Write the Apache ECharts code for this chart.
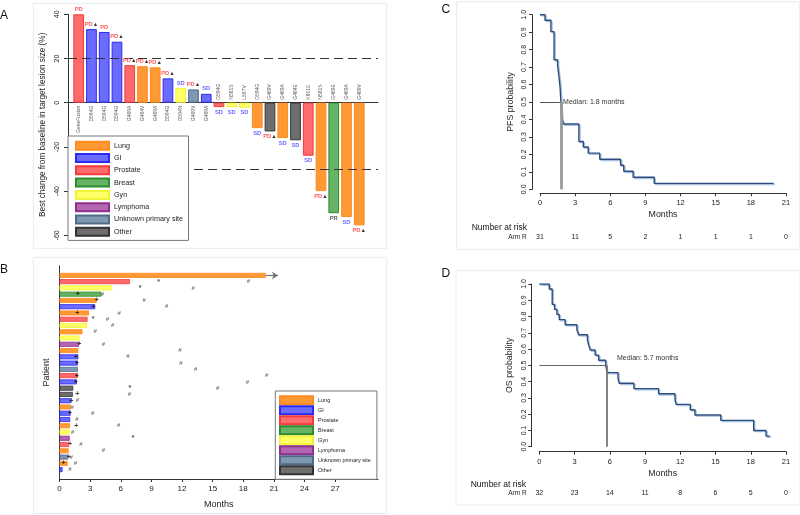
<!DOCTYPE html>
<html><head><meta charset="utf-8">
<script src="https://cdn.jsdelivr.net/npm/echarts@6/dist/echarts.min.js"></script>
<style>html,body{margin:0;padding:0;background:#fff}#c{width:800px;height:515px}</style>
</head><body><div id="c"></div>
<script>
// ---------- Panel A : waterfall ----------
const mutations = ['GeneFusion','D594G','D594G','D594G','G469A','G464V','G469A','D594G','D594N','G469V','G469A','D594G','N581S','L597V','D594G','G469V','G469A','G464E','K601E','N581S','G469E','G469A','G469V'];
const bestChange = [40, 33.3, 32, 27.6, 17, 16.5, 16, 11, 6.6, 6, 4, -2, -2, -2.3, -11.5, -13, -16, -17, -24, -40, -50, -51.7, -55.5];
const tumorType = ['Prostate','GI','GI','GI','Prostate','Lung','Lung','GI','Gyn','Unknown primary site','GI','Prostate','Gyn','Gyn','Lung','Other','Lung','Other','Prostate','Lung','Breast','Lung','Lung'];
const response = ['PD','PD','PD','PD','PD','PD','PD','PD','SD','PD','SD','SD','SD','SD','SD','PD','SD','SD','SD','PD','PR','SD','PD'];
const newLesion = [0,1,0,1,1,1,1,1,0,1,0,0,0,0,0,1,0,0,0,1,0,0,1];
const refLines = [20, -30];

// ---------- Panel B : swimmer ----------
const swimType = ['Lung','Prostate','Gyn','Breast','Lung','GI','Lung','Prostate','Gyn','Lung','Gyn','Lymphoma','Lung','GI','GI','Unknown primary site','Prostate','GI','Other','Other','GI','Lung','GI','GI','Lung','Gyn','Lymphoma','Prostate','Lung','Unknown primary site','Lung','GI'];
const swimEnd = [20.2, 6.9, 5.15, 4.1, 3.65, 3.5, 2.9, 2.75, 2.7, 2.25, 1.95, 1.9, 1.85, 1.85, 1.8, 1.8, 1.8, 1.7, 1.35, 1.3, 1.15, 1.1, 1.1, 1.05, 1.03, 1.0, 1.0, 0.93, 0.9, 0.85, 0.8, 0.3];
const respPlus = [null,null,null,1.8,3.65,3.3,1.75,null,null,null,null,1.95,null,1.6,1.7,null,1.7,1.6,null,1.75,1.15,null,1.0,null,1.65,null,null,1.03,null,0.9,0.4,null];
const respStar = [null,9.7,7.9,null,null,null,null,3.3,null,null,null,null,null,null,null,null,null,null,6.9,null,null,null,null,null,null,null,7.2,null,null,null,null,null];
const progHash = [null,18.5,13.1,4.2,8.3,10.5,5.85,4.7,5.2,3.5,null,4.3,11.8,6.7,11.9,13.35,20.3,18.4,15.5,6.85,1.75,1.25,3.25,1.7,5.8,1.3,null,2.1,4.3,1.15,1.55,1.03];
const ongoingArrowEnd = 21.4;
const swimTicks = [0,3,6,9,12,15,18,21,24,27];

// ---------- Panels C / D : Kaplan-Meier ----------
const pfsTime = [0, 0.43, 0.93, 1.2, 1.5, 1.62, 1.72, 1.85, 1.99, 3.32, 3.7, 4.12, 5.1, 6.88, 7.15, 7.95, 9.75, 19.95];
const pfsSurv = [1, 0.968, 0.903, 0.742, 0.71, 0.645, 0.58, 0.416, 0.374, 0.274, 0.242, 0.207, 0.172, 0.138, 0.103, 0.069, 0.034, 0.034];
const pfsMedian = 1.8;
const pfsRisk = [31, 11, 5, 2, 1, 1, 1, 0];
const osTime = [0, 0.85, 1.1, 1.3, 1.5, 1.7, 2.2, 3.2, 3.35, 4.1, 4.2, 4.35, 4.75, 5.05, 5.65, 5.78, 6.7, 6.8, 8.05, 10.15, 11.55, 11.65, 12.85, 13.25, 15.45, 18.25, 19.3, 19.65];
const osSurv = [1, 0.969, 0.875, 0.844, 0.813, 0.781, 0.75, 0.719, 0.688, 0.656, 0.625, 0.594, 0.563, 0.531, 0.5, 0.455, 0.42, 0.39, 0.357, 0.325, 0.29, 0.26, 0.227, 0.195, 0.162, 0.1, 0.065, 0.065];
const osMedian = 5.7;
const osRisk = [32, 23, 14, 11, 8, 6, 5, 0];

const typeNames = ['Lung','GI','Prostate','Breast','Gyn','Lymphoma','Unknown primary site','Other'];
const typeFill = ['#FF9933','#6B6BFF','#FF6B6B','#66B366','#FFFF66','#B366B3','#7F99B3','#6E6E6E'];
const typeBorder = ['#FF8A1F','#2B2BF0','#F03C3C','#2E8B2E','#F2F23A','#8E2F8E','#4E6B88','#333333'];

const FONT = 'Liberation Sans, Arial, sans-serif';
const chart = echarts.init(document.getElementById('c'), null, {renderer:'canvas'});

const rowCats = ['top'].concat(swimType.map((_, i) => 'r' + (i + 1))).concat(['bottom']);
const series = [];

// A bars
typeNames.forEach((t, k) => {
  const s = {
    type: 'bar', name: t, xAxisIndex: 0, yAxisIndex: 0, barWidth: 10.7, barGap: '-100%',
    itemStyle: {color: typeFill[k], borderColor: typeBorder[k], borderWidth: 1},
    data: bestChange.map((v, i) => tumorType[i] === t ? [i + 1, v] : null).filter(d => d)
  };
  if (k === 0) {
    s.markLine = {silent: true, symbol: ['none','none'], label: {show: false},
      lineStyle: {color: '#333', width: 1.1, type: [9, 5]},
      data: refLines.map(v => ({yAxis: v}))};
  }
  series.push(s);
});
// A response labels
const rich = {
  PD: {color: '#FF3333', fontSize: 5.8, fontWeight: 'bold'},
  SD: {color: '#4444FF', fontSize: 5.8, fontWeight: 'bold'},
  PR: {color: '#333333', fontSize: 5.8, fontWeight: 'bold'},
  tri: {color: '#000', fontSize: 5.5}
};
series.push({
  type: 'scatter', xAxisIndex: 0, yAxisIndex: 0, symbolSize: 0, silent: true, z: 5,
  data: bestChange.map((v, i) => ({value: [i + 1, v], label: {position: v >= 0 ? 'top' : 'bottom'}})),
  label: {show: true, distance: 2, rich: rich,
    formatter: p => '{' + response[p.dataIndex] + '|' + response[p.dataIndex] + '}' + (newLesion[p.dataIndex] ? '{tri|▲}' : '')}
});
// A mutation labels
series.push({
  type: 'scatter', xAxisIndex: 0, yAxisIndex: 0, symbolSize: 0, silent: true, z: 5,
  data: bestChange.map((v, i) => ({value: [i + 1, 0],
    label: v >= 0 ? {position: 'bottom', align: 'right'} : {position: 'top', align: 'left'}})),
  label: {show: true, distance: 3, rotate: 90, verticalAlign: 'middle', fontSize: 5, color: '#333',
    formatter: p => mutations[p.dataIndex]}
});

// B bars
typeNames.forEach((t, k) => {
  const s = {
    type: 'bar', name: t, xAxisIndex: 1, yAxisIndex: 1, barWidth: 5, barGap: '-100%',
    itemStyle: {color: typeFill[k], borderColor: typeBorder[k], borderWidth: 0.8},
    data: rowCats.map((c, j) => (j >= 1 && j <= swimType.length && swimType[j - 1] === t) ? swimEnd[j - 1] : '-')
  };
  if (t === swimType[0]) {
    s.markLine = {silent: true, symbol: ['none', 'arrow'], symbolSize: 6, label: {show: false},
      lineStyle: {color: '#777', width: 1.2, type: 'solid'},
      data: [[{coord: [swimEnd[0], rowCats[1]]}, {coord: [ongoingArrowEnd, rowCats[1]]}]]};
  }
  series.push(s);
});
function markerSeries(arr, glyph, size, color) {
  const data = [];
  arr.forEach((v, i) => { if (v !== null) data.push([v, i + 1]); });
  return {type: 'scatter', xAxisIndex: 1, yAxisIndex: 1, symbolSize: 0, silent: true, z: 6, data: data,
    label: {show: true, position: 'inside', formatter: glyph, fontSize: size, color: color, fontWeight: 'bold'}};
}
series.push(markerSeries(respPlus, '+', 7, '#111'));
series.push(markerSeries(respStar, '*', 7, '#222'));
series.push(markerSeries(progHash, '#', 6, '#555'));

// C, D KM curves
function kmSeries(xi, yi, times, surv, median, hColor, vColor, vWidth, showLabel) {
  return {
    type: 'line', xAxisIndex: xi, yAxisIndex: yi, step: 'end', symbol: 'none', showSymbol: false, silent: true,
    data: times.map((t, i) => [t, surv[i]]),
    lineStyle: {color: '#2E4D7F', width: 1.4, shadowColor: '#A8C3E0', shadowOffsetX: 1.2, shadowOffsetY: 1.2, shadowBlur: 0},
    markLine: {silent: true, symbol: ['none','none'], animation: false, label: {show: false},
      data: [
        [{coord: [0, 0.5], lineStyle: {color: hColor, width: 1, type: 'solid'},
          label: {show: showLabel, position: 'end', distance: 2, fontSize: 7, color: '#333',
            formatter: 'Median: ' + median + ' months'}},
         {coord: [median, 0.5]}],
        [{coord: [median, 0.5], lineStyle: {color: vColor, width: vWidth, type: 'solid'}}, {coord: [median, 0]}]
      ]}
  };
}
series.push(kmSeries(2, 2, pfsTime, pfsSurv, pfsMedian, '#555', '#999', 2.8, true));
series.push(kmSeries(4, 3, osTime, osSurv, osMedian, '#666', '#777', 1.8, false));

const axisColor = '#333';
const kmX = (grid, offset) => ({
  gridIndex: grid, type: 'value', min: 0, max: 21, interval: 3, position: 'bottom', offset: offset,
  axisLine: {show: true, onZero: false, lineStyle: {color: axisColor}},
  axisTick: {show: true, length: 3, lineStyle: {color: axisColor}},
  axisLabel: {fontSize: 7.5, color: '#222', margin: 6, showMinLabel: true, showMaxLabel: true},
  splitLine: {show: false},
  name: 'Months', nameLocation: 'middle', nameGap: 17, nameTextStyle: {fontSize: 8.8, color: '#222'}
});
const riskX = (grid, risk, margin) => ({
  gridIndex: grid, type: 'value', min: 0, max: 21, interval: 3, position: 'bottom', offset: 40,
  axisLine: {show: false}, axisTick: {show: false}, splitLine: {show: false},
  axisLabel: {fontSize: 7, color: '#222', margin: margin, showMinLabel: true, showMaxLabel: true,
    formatter: v => String(risk[Math.round(v / 3)])}
});
const kmY = (grid, name) => ({
  gridIndex: grid, type: 'value', min: 0, max: 1, interval: 0.1, offset: 8,
  axisLine: {show: true, onZero: false, lineStyle: {color: axisColor}},
  axisTick: {show: true, length: 3, lineStyle: {color: axisColor}},
  axisLabel: {rotate: 90, fontSize: 7, color: '#222', margin: 4, formatter: v => v.toFixed(1)},
  splitLine: {show: false},
  name: name, nameLocation: 'middle', nameRotate: 90, nameGap: 17, nameTextStyle: {fontSize: 8.8, color: '#222'}
});

const legendBase = {orient: 'vertical', icon: 'rect', itemWidth: 33, itemHeight: 8, selectedMode: false, z: 30,
  data: typeNames, backgroundColor: '#fff', borderColor: '#777', borderWidth: 1};

const option = {
  animation: false,
  textStyle: {fontFamily: FONT},
  grid: [
    {left: 68, top: 14.3, width: 310, height: 221},
    {left: 59.5, top: 266, width: 318.5, height: 213},
    {left: 540, top: 14.7, width: 246, height: 174.6},
    {left: 539.3, top: 284, width: 246.7, height: 162.7}
  ],
  xAxis: [
    {gridIndex: 0, type: 'value', min: 0.16, max: 24.47, axisLine: {show: true, onZero: true, lineStyle: {color: axisColor}},
      axisTick: {show: false}, axisLabel: {show: false}, splitLine: {show: false}},
    {gridIndex: 1, type: 'value', min: 0, max: 31.2,
      axisLine: {show: true, lineStyle: {color: axisColor}},
      axisTick: {show: true, length: 3, customValues: swimTicks, lineStyle: {color: axisColor}},
      axisLabel: {customValues: swimTicks, fontSize: 8, color: '#222', margin: 6},
      splitLine: {show: false},
      name: 'Months', nameLocation: 'middle', nameGap: 21, nameTextStyle: {fontSize: 9, color: '#222'}},
    kmX(2, 4), riskX(2, pfsRisk, 4.4),
    kmX(3, 5), riskX(3, osRisk, 2.6)
  ],
  yAxis: [
    {gridIndex: 0, type: 'value', min: -60, max: 40, interval: 20,
      axisLine: {show: true, onZero: false, lineStyle: {color: axisColor}},
      axisTick: {show: true, length: 4, lineStyle: {color: axisColor}},
      axisLabel: {rotate: 90, fontSize: 7, color: '#222', margin: 7},
      splitLine: {show: false},
      name: 'Best change from baseline in target lesion size (%)', nameLocation: 'middle', nameRotate: 90, nameGap: 21,
      nameTextStyle: {fontSize: 8.2, color: '#222'}},
    {gridIndex: 1, type: 'category', data: rowCats, inverse: true, offset: 6,
      axisLine: {show: true, lineStyle: {color: axisColor}}, axisTick: {show: false}, axisLabel: {show: false},
      name: 'Patient', nameLocation: 'middle', nameRotate: 90, nameGap: 2, nameTextStyle: {fontSize: 9, color: '#222'}},
    kmY(2, 'PFS probability'),
    kmY(3, 'OS probability')
  ],
  legend: [
    Object.assign({}, legendBase, {left: 68, top: 136, padding: [4.7, 5.4, 3.6, 7], itemGap: 2.3, itemTextGap: 5.3,
      textStyle: {fontSize: 7.2, color: '#222', lineHeight: 8}}),
    Object.assign({}, legendBase, {left: 275.3, top: 391, padding: [4.3, 6, 4, 3.7], itemGap: 0, itemTextGap: 5.7,
      textStyle: {fontSize: 5.5, color: '#222', lineHeight: 8}})
  ],
  graphic: [
    {type: 'rect', z: -10, shape: {x: 33.3, y: 3.3, width: 353.4, height: 245}, style: {fill: '#fff', stroke: '#e4eded', lineWidth: 1}},
    {type: 'rect', z: -10, shape: {x: 33.3, y: 257.3, width: 353.4, height: 256.3}, style: {fill: '#fff', stroke: '#e4eded', lineWidth: 1}},
    {type: 'rect', z: -10, shape: {x: 456.7, y: 1.7, width: 343, height: 247.6}, style: {fill: '#fff', stroke: '#e4eded', lineWidth: 1}},
    {type: 'rect', z: -10, shape: {x: 456, y: 270.7, width: 344, height: 234.3}, style: {fill: '#fff', stroke: '#e4eded', lineWidth: 1}},
    {type: 'text', x: 0, y: 16, style: {text: 'A', font: '12px ' + FONT, fill: '#111', verticalAlign: 'middle'}},
    {type: 'text', x: 0, y: 270, style: {text: 'B', font: '12px ' + FONT, fill: '#111', verticalAlign: 'middle'}},
    {type: 'text', x: 441.5, y: 10, style: {text: 'C', font: '12px ' + FONT, fill: '#111', verticalAlign: 'middle'}},
    {type: 'text', x: 441.5, y: 274, style: {text: 'D', font: '12px ' + FONT, fill: '#111', verticalAlign: 'middle'}},
    {type: 'text', x: 617, y: 358, style: {text: 'Median: ' + osMedian + ' months', font: '7px ' + FONT, fill: '#333', verticalAlign: 'middle'}},
    {type: 'text', x: 471.7, y: 228, style: {text: 'Number at risk', font: '8.5px ' + FONT, fill: '#111', verticalAlign: 'middle'}},
    {type: 'text', x: 526.7, y: 237.7, style: {text: 'Arm R', font: '6.5px ' + FONT, fill: '#222', align: 'right', verticalAlign: 'middle'}},
    {type: 'text', x: 470.7, y: 484.3, style: {text: 'Number at risk', font: '8.5px ' + FONT, fill: '#111', verticalAlign: 'middle'}},
    {type: 'text', x: 526.7, y: 493.3, style: {text: 'Arm R', font: '6.5px ' + FONT, fill: '#222', align: 'right', verticalAlign: 'middle'}}
  ],
  series: series
};
chart.setOption(option);
</script></body></html>
